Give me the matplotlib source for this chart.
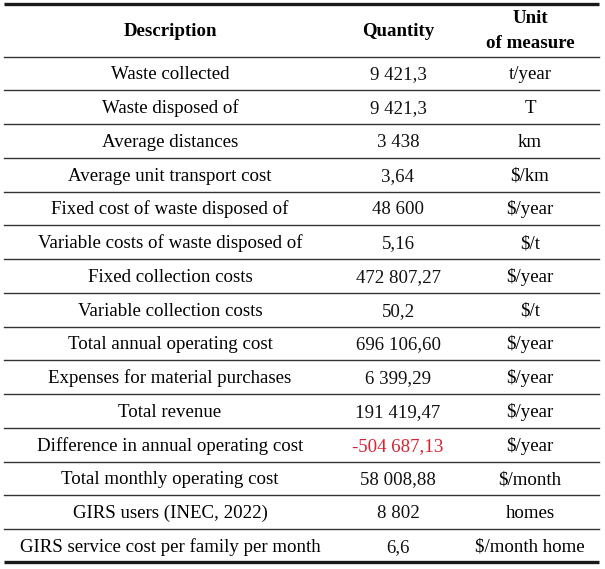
import matplotlib.pyplot as plt

descriptions = [
    'Waste collected',
    'Waste disposed of',
    'Average distances',
    'Average unit transport cost',
    'Fixed cost of waste disposed of',
    'Variable costs of waste disposed of',
    'Fixed collection costs',
    'Variable collection costs',
    'Total annual operating cost',
    'Expenses for material purchases',
    'Total revenue',
    'Difference in annual operating cost',
    'Total monthly operating cost',
    'GIRS users (INEC, 2022)',
    'GIRS service cost per family per month',
]
quantities = ['9 421,3', '9 421,3', '3 438', '3,64', '48 600', '5,16',
              '472 807,27', '50,2', '696 106,60', '6 399,29', '191 419,47',
              '-504 687,13', '58 008,88', '8 802', '6,6']
units = ['t/year', 'T', 'km', '$/km', '$/year', '$/t', '$/year', '$/t',
         '$/year', '$/year', '$/year', '$/year', '$/month', 'homes',
         '$/month home']
highlight = ['-504 687,13']

plt.rcParams['font.family'] = ['Liberation Serif', 'DejaVu Serif']
plt.rcParams['mathtext.default'] = 'regular'

fig = plt.figure(figsize=(6.05, 5.69), dpi=100)
ax = fig.add_axes([0, 0, 1, 1])
ax.set_xlim(0, 605)
ax.set_ylim(569, 0)
ax.axis('off')

x0, x1 = 4, 599
col_x = [170, 398, 530]
top = 3.5
head_bot = 56.5
row_h = 33.75
fs = 13.6
base = 6.0  # baseline offset below the row centre, px

ax.plot([x0, x1], [top, top], color='#1a1a1a', lw=2.4, solid_capstyle='butt')
hd = dict(ha='center', va='baseline', fontsize=fs, fontweight='bold')
ax.text(col_x[0], 30 + base, 'Description', **hd)
ax.text(col_x[1], 30 + base, 'Quantity', **hd)
ax.text(col_x[2], 17 + base, 'Unit', **hd)
ax.text(col_x[2], 42 + base, 'of measure', **hd)
ax.plot([x0, x1], [head_bot, head_bot], color='#333333', lw=1.0)

n = len(descriptions)
for i in range(n):
    yc = head_bot + (i + 0.5) * row_h + base
    ax.text(col_x[0], yc, descriptions[i].replace('$', r'\$'), ha='center', va='baseline', fontsize=fs)
    qcol = '#d62232' if quantities[i] in highlight else '#111111'
    ax.text(col_x[1], yc, quantities[i], ha='center', va='baseline', fontsize=fs, color=qcol)
    ax.text(col_x[2], yc, units[i].replace('$', r'\$'), ha='center', va='baseline', fontsize=fs)
    yb = head_bot + (i + 1) * row_h
    if i < n - 1:
        ax.plot([x0, x1], [yb, yb], color='#333333', lw=1.0)
    else:
        ax.plot([x0, x1], [yb - 1, yb - 1], color='#1a1a1a', lw=2.4, solid_capstyle='butt')

fig.savefig('out.png', dpi=100)
